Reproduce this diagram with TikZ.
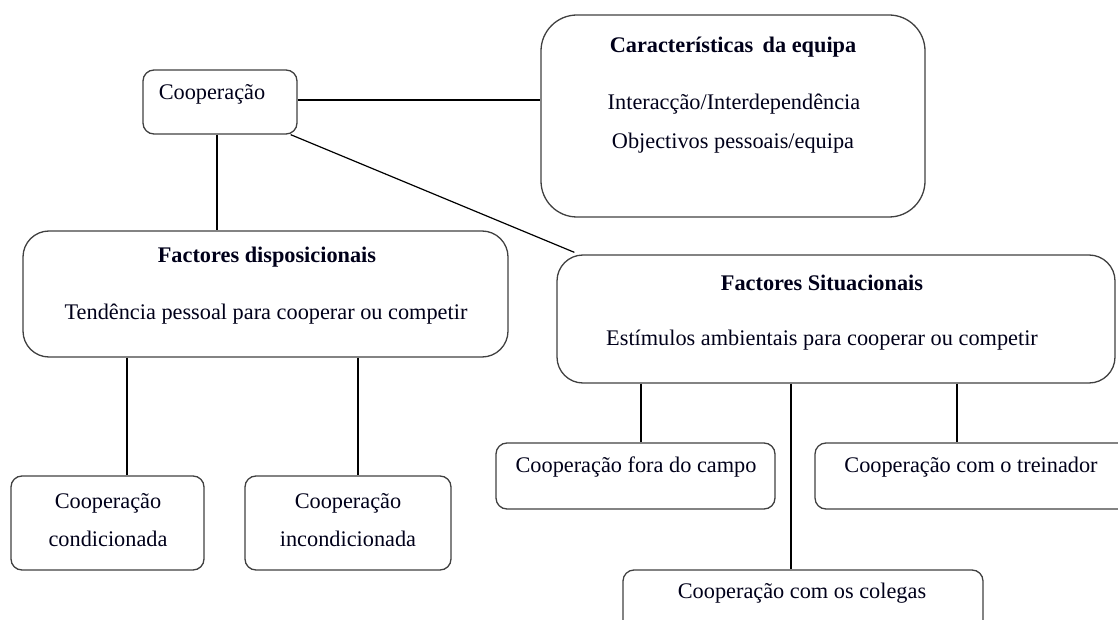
\documentclass[tikz,border=0pt]{standalone}
\usepackage{fontspec}
\setmainfont{Liberation Serif}
\begin{document}
\begin{tikzpicture}[x=1pt,y=-1pt,
  box/.style={draw=black!75, line width=1.3pt, inner sep=0pt},
  smallbox/.style={box, rounded corners=11pt},
  bigbox/.style={box, rounded corners=26pt},
  txt/.style={inner sep=0pt, font=\fontsize{22.3}{38}\selectfont, text=black!90!blue},
  btxt/.style={txt, font=\fontsize{22.3}{38}\selectfont\bfseries},
  link/.style={line width=1.2pt, black}]
\useasboundingbox (0,0) rectangle (1118,620);
\clip (0,0) rectangle (1118,620);
% boxes
\node[smallbox, minimum width=154pt, minimum height=64pt] (coop) at (220,102) {};
\node[box, rounded corners=36pt, minimum width=384pt, minimum height=202pt] (carac) at (733,116) {};
\node[bigbox, minimum width=485pt, minimum height=126pt] (disp) at (265.5,294) {};
\node[bigbox, minimum width=558pt, minimum height=128pt] (sit) at (836,319) {};
\node[smallbox, minimum width=193pt, minimum height=94pt] (cond) at (107.5,523) {};
\node[smallbox, minimum width=206pt, minimum height=94pt] (incond) at (348,523) {};
\node[smallbox, minimum width=279pt, minimum height=66pt] (fora) at (635.5,476) {};
\node[smallbox, minimum width=320pt, minimum height=66pt] (trein) at (975,476) {};
\node[smallbox, minimum width=360pt, minimum height=90pt] (coleg) at (803,615) {};
% texts
\node[txt] (tcoop) at (212,94) {Cooperação};
\node[btxt] (tcarac) at (733,47) {Características\, da equipa};
\node[txt] (tcarac1) at (734,104) {Interacção/Interdependência};
\node[txt] (tcarac2) at (733,143) {Objectivos pessoais/equipa};
\node[btxt] (tdisp) at (267,257) {Factores disposicionais};
\node[txt] (tdisp1) at (266,314) {Tendência pessoal para cooperar ou competir};
\node[btxt] (tsit) at (822,283) {Factores Situacionais};
\node[txt] (tsit1) at (822,340) {Estímulos ambientais para cooperar ou competir};
\node[txt, align=center] (tcond) at (108,520) {Cooperação\\condicionada};
\node[txt, align=center] (tincond) at (348,520) {Cooperação\\incondicionada};
\node[txt] (tfora) at (636,467) {Cooperação fora do campo};
\node[txt] (ttrein) at (971,467) {Cooperação com o treinador};
\node[txt] (tcoleg) at (802,593) {Cooperação com os colegas};
% connectors
\draw[link] (coop.east |- 0,100) -- (carac.west |- 0,100);
\draw[link] (coop.south -| 217,0) -- (disp.north -| 217,0);
\draw[link] ([xshift=-7pt]coop.south east) -- ([xshift=18pt,yshift=2pt]sit.north west);
\draw[link] (disp.south -| 127,0) -- (cond.north -| 127,0);
\draw[link] (disp.south -| 358,0) -- (incond.north -| 358,0);
\draw[link] (sit.south -| 641,0) -- (fora.north -| 641,0);
\draw[link] (sit.south -| 791,0) -- (coleg.north -| 791,0);
\draw[link] (sit.south -| 957,0) -- (trein.north -| 957,0);
\end{tikzpicture}
\end{document}
